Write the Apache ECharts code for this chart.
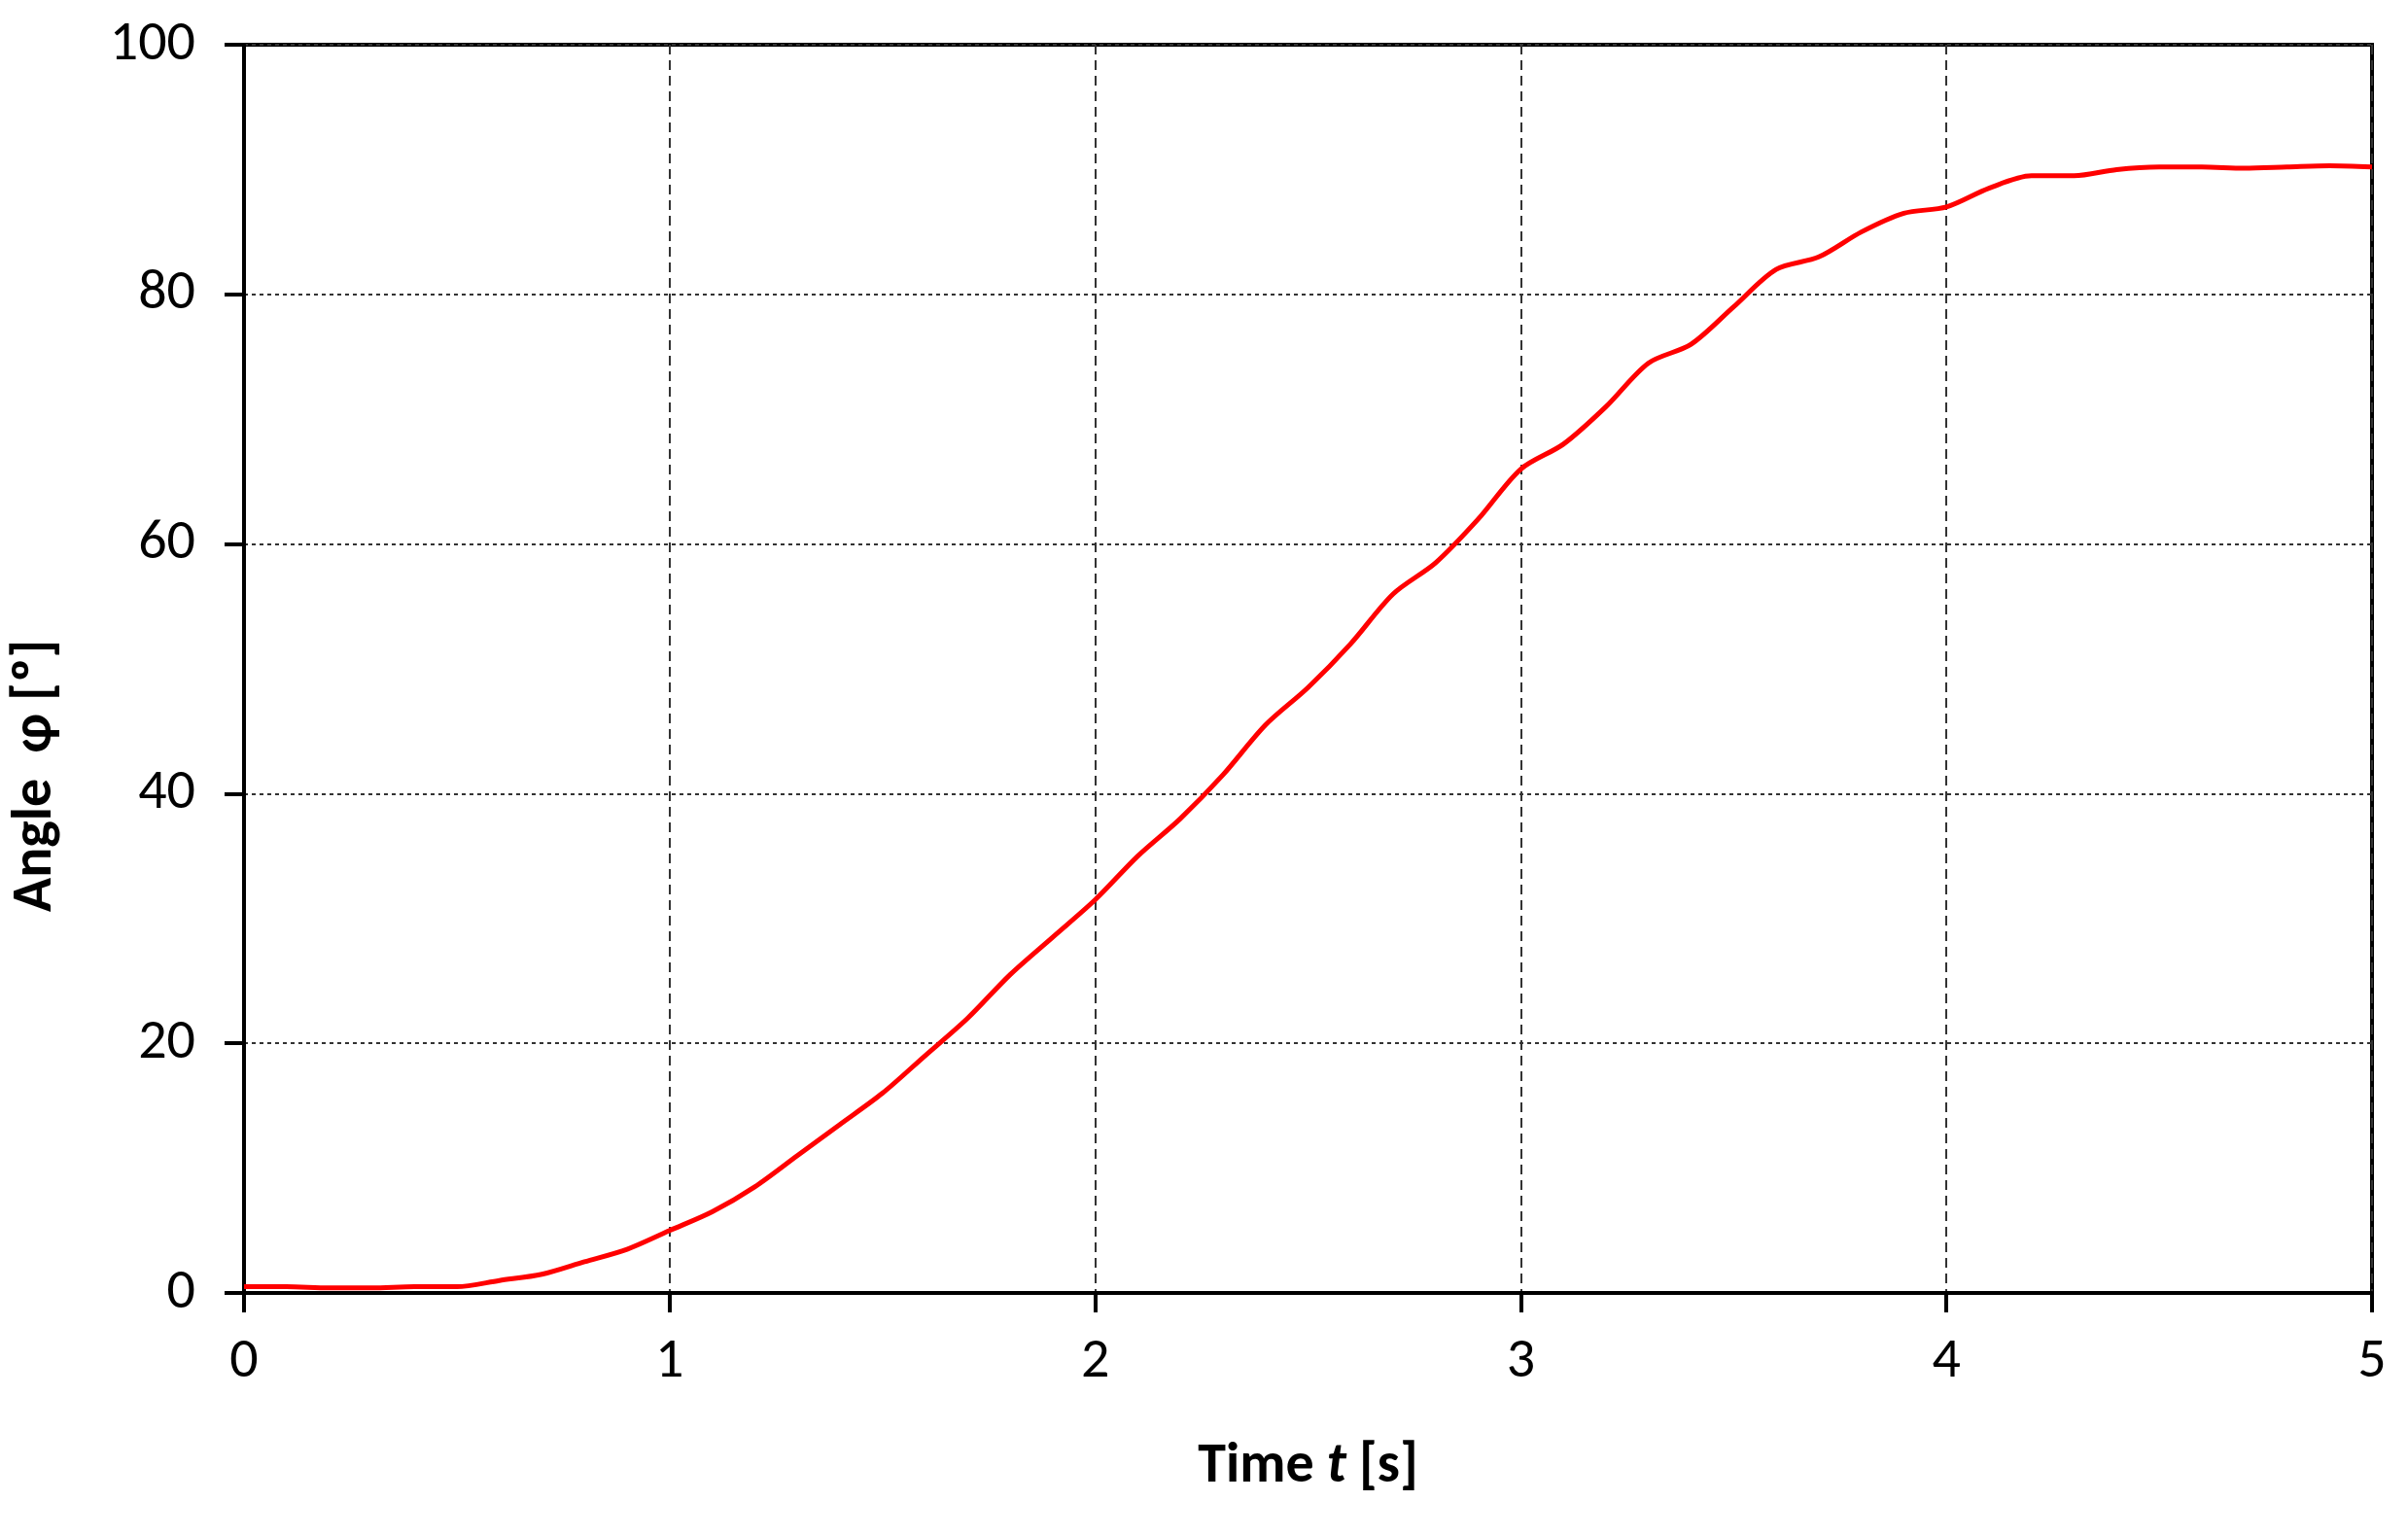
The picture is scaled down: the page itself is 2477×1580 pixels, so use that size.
<!DOCTYPE html>
<html>
<head>
<meta charset="utf-8">
<script src="https://cdn.jsdelivr.net/npm/echarts@6/dist/echarts.min.js"></script>
<style>html,body{margin:0;padding:0;background:#fff}</style>
</head>
<body>
<div id="my-echarts" style="width:2477px;height:1580px;"></div>
<script>
// time [s] and angle [deg]
var times = [0, 0.1, 0.2, 0.3, 0.4, 0.5, 0.6, 0.7, 0.8, 0.9, 1.0, 1.1, 1.2, 1.3, 1.4, 1.5, 1.6, 1.7, 1.8, 1.9,
    2.0, 2.1, 2.2, 2.3, 2.4, 2.5, 2.6, 2.7, 2.8, 2.9, 3.0, 3.1, 3.2, 3.3, 3.4, 3.5, 3.6, 3.7, 3.8, 3.9,
    4.0, 4.1, 4.2, 4.3, 4.4, 4.5, 4.6, 4.7, 4.8, 4.9, 5.0];
var angles = [0.5, 0.5, 0.4, 0.4, 0.5, 0.5, 1.0, 1.5, 2.5, 3.5, 5.0, 6.5, 8.5, 11, 13.5, 16, 19, 22, 25.5, 28.5,
    31.5, 35, 38, 41.5, 45.5, 48.5, 52, 56, 58.5, 62, 66, 68, 71, 74.5, 76, 79, 82, 83, 85, 86.5,
    87, 88.5, 89.5, 89.5, 90, 90.2, 90.2, 90.1, 90.2, 90.3, 90.2];
var xTicks = [0, 1, 2, 3, 4, 5];
var yTicks = [0, 20, 40, 60, 80, 100];

var points = times.map(function (t, i) { return [t, angles[i]]; });
var font = 'Calibri, Carlito, "Open Sans", sans-serif';
var myChart = echarts.init(document.getElementById('my-echarts'));
myChart.setOption({
    animation: false,
    grid: { left: 245, right: 37, top: 46, bottom: 250, show: true, borderColor: '#000', borderWidth: 4 },
    xAxis: {
        type: 'value', min: xTicks[0], max: xTicks[xTicks.length - 1], interval: 1,
        name: 'Time {i|t} [s]', nameLocation: 'middle', nameGap: 150,
        nameTextStyle: { fontFamily: font, fontSize: 58, fontWeight: 'bold', color: '#000',
            rich: { i: { fontFamily: font, fontSize: 58, fontWeight: 'bold', fontStyle: 'italic', color: '#000' } } },
        axisLine: { lineStyle: { color: '#000', width: 4 } },
        axisTick: { inside: false, length: 20, lineStyle: { color: '#000', width: 4 } },
        axisLabel: { fontFamily: font, fontSize: 58, color: '#000', margin: 42 },
        splitLine: { lineStyle: { color: '#333', type: [10, 6], width: 2 } }
    },
    yAxis: {
        type: 'value', min: yTicks[0], max: yTicks[yTicks.length - 1], interval: 20,
        name: 'Angle  φ [º]', nameLocation: 'middle', nameGap: 185,
        nameTextStyle: { fontFamily: font, fontSize: 58, fontWeight: 'bold', color: '#000', padding: [0, 220, 0, 0] },
        axisLine: { lineStyle: { color: '#000', width: 4 } },
        axisTick: { length: 20, lineStyle: { color: '#000', width: 4 } },
        axisLabel: { fontFamily: font, fontSize: 58, color: '#000', margin: 50 },
        splitLine: { lineStyle: { color: '#333', type: [4, 4], width: 2 } }
    },
    series: [{
        type: 'line', data: points, showSymbol: false, smooth: 0.3,
        lineStyle: { color: '#ff0000', width: 5 }
    }]
});
</script>
</body>
</html>
